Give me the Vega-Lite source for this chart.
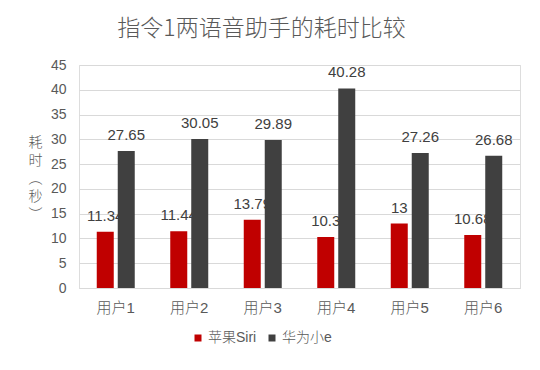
{
  "$schema": "https://vega.github.io/schema/vega-lite/v6.json",
  "autosize": {"type": "none"},
  "width": 441,
  "height": 223,
  "padding": {"left": 79, "top": 65, "right": 20, "bottom": 82},
  "background": "white",
  "title": {
    "text": "指令1两语音助手的耗时比较",
    "fontSize": 23,
    "font": "Noto Sans CJK SC",
    "fontWeight": 300,
    "color": "#595959",
    "anchor": "middle",
    "frame": "group",
    "dx": -38,
    "offset": 17
  },
  "data": {
    "values": [
      {"user": "用户1", "series": "苹果Siri", "value": 11.34},
      {"user": "用户1", "series": "华为小e", "value": 27.65},
      {"user": "用户2", "series": "苹果Siri", "value": 11.44},
      {"user": "用户2", "series": "华为小e", "value": 30.05},
      {"user": "用户3", "series": "苹果Siri", "value": 13.79},
      {"user": "用户3", "series": "华为小e", "value": 29.89},
      {"user": "用户4", "series": "苹果Siri", "value": 10.3},
      {"user": "用户4", "series": "华为小e", "value": 40.28},
      {"user": "用户5", "series": "苹果Siri", "value": 13},
      {"user": "用户5", "series": "华为小e", "value": 27.26},
      {"user": "用户6", "series": "苹果Siri", "value": 10.68},
      {"user": "用户6", "series": "华为小e", "value": 26.68}
    ]
  },
  "encoding": {
    "x": {
      "field": "user", "type": "nominal",
      "scale": {"paddingInner": 0.483, "paddingOuter": 0.2415},
      "axis": {
        "title": null, "labelAngle": 0, "labelFontSize": 15, "labelColor": "#595959",
        "labelFont": "Liberation Sans, Noto Sans CJK SC",
        "labelFontWeight": 300,
        "ticks": false, "domain": true, "domainColor": "#d9d9d9", "labelPadding": 12, "grid": false
      }
    },
    "xOffset": {
      "field": "series", "type": "nominal",
      "sort": ["苹果Siri", "华为小e"],
      "scale": {"paddingInner": 0.19, "paddingOuter": 0}
    },
    "y": {
      "field": "value", "type": "quantitative",
      "scale": {"domain": [0, 45]},
      "axis": {
        "values": [0, 5, 10, 15, 20, 25, 30, 35, 40, 45],
        "title": ["耗", "时", "︵", "秒", "︶"],
        "titleAngle": 0,
        "titleFontSize": 14,
        "titleFont": "Liberation Sans, Noto Sans CJK SC",
        "titleFontWeight": 300,
        "titleColor": "#595959",
        "titleLineHeight": 18,
        "titleAlign": "center",
        "titleBaseline": "middle",
        "titleX": -44,
        "titleY": 77,
        "labelFontSize": 14,
        "labelFont": "Liberation Sans",
        "labelColor": "#595959",
        "labelPadding": 13,
        "ticks": false,
        "domain": false,
        "grid": true,
        "gridColor": "#d9d9d9",
        "gridWidth": 1
      }
    }
  },
  "layer": [
    {
      "mark": {"type": "text", "baseline": "alphabetic", "dy": -11, "fontSize": 15, "font": "Liberation Sans", "color": "#404040"},
      "encoding": {"text": {"field": "value", "type": "quantitative"}}
    },
    {
      "mark": {"type": "bar"},
      "encoding": {
        "color": {
          "field": "series", "type": "nominal",
          "sort": ["苹果Siri", "华为小e"],
          "scale": {"domain": ["苹果Siri", "华为小e"], "range": ["#c00000", "#404040"]},
          "legend": {
            "title": null,
            "orient": "none",
            "direction": "horizontal",
            "legendX": 112,
            "legendY": 266,
            "symbolType": "square",
            "symbolSize": 49,
            "symbolStrokeWidth": 0,
            "labelFontSize": 14,
            "labelFont": "Liberation Sans, Noto Sans CJK SC",
            "labelFontWeight": 300,
            "labelColor": "#595959",
            "labelOffset": 3,
            "columnPadding": 8,
            "padding": 0
          }
        }
      }
    }
  ]
}
